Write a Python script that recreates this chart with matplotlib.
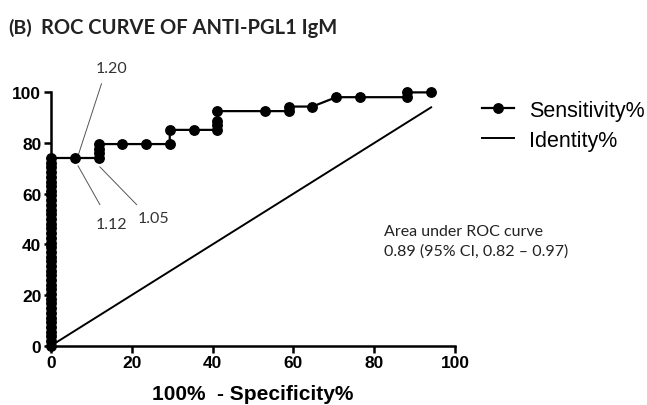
import matplotlib
matplotlib.use("Agg")
import matplotlib.pyplot as plt

# ROC points (100% - specificity, sensitivity %)
fpr = [0]*41 + [5.9, 11.8, 11.8, 11.8, 11.8, 17.6, 23.5, 29.4, 29.4, 35.3,
                41.2, 41.2, 41.2, 41.2, 52.9, 58.8, 58.8, 64.7, 70.6, 76.5,
                88.2, 88.2, 94.1]
sens = [0, 1.9, 3.7, 5.6, 7.4, 9.3, 11.1, 13.0, 14.8, 16.7, 18.5, 20.4, 22.2,
        24.1, 25.9, 27.8, 29.6, 31.5, 33.3, 35.2, 37.0, 38.9, 40.7, 42.6, 44.4,
        46.3, 48.1, 50.0, 51.9, 53.7, 55.6, 57.4, 59.3, 61.1, 63.0, 64.8, 66.7,
        68.5, 70.4, 72.2, 74.1,
        74.1, 74.1, 75.9, 77.8, 79.6, 79.6, 79.6, 79.6, 85.2, 85.2,
        85.2, 87.0, 88.9, 92.6, 92.6, 92.6, 94.4, 94.4, 98.1, 98.1,
        98.1, 100, 100]
ident_x = [0, 94.1]
ident_y = [0, 94.1]

cutoffs = ["1.20", "1.12", "1.05"]
cut_xy = [(6.6, 74.5), (6.7, 71.0), (12.1, 70.6)]
cut_text = [(12.5, 103.4), (12.1, 55.7), (21.2, 55.7)]
cut_label = [(15.1, 109.5), (15.0, 48.0), (25.3, 50.5)]

fig = plt.figure(figsize=(6.47, 4.06), dpi=100)
ax = fig.add_axes([0.0788, 0.146, 0.6244, 0.624])

ax.plot(fpr, sens, '-o', color='black', lw=1.6, ms=6.8, clip_on=False,
        zorder=4, label="Sensitivity%")
ax.plot(ident_x, ident_y, '-', color='black', lw=1.4, label="Identity%")

for lab, p, t, l in zip(cutoffs, cut_xy, cut_text, cut_label):
    ax.plot([p[0], t[0]], [p[1], t[1]], color='#555555', lw=0.7, clip_on=False)
    ax.text(l[0], l[1], lab, fontsize=11.5, family='Lato', color='#333333',
            ha='center', va='center')

ax.text(82.5, 41.4, "Area under ROC curve\n0.89 (95% CI, 0.82 \u2013 0.97)",
        fontsize=11.5, family='Lato', color='#222222', ha='left', va='center',
        linespacing=1.45)

ax.set_xlim(0, 100)
ax.set_ylim(0, 100)
ax.set_xticks([0, 20, 40, 60, 80, 100])
ax.set_yticks([0, 20, 40, 60, 80, 100])
for s in ['top', 'right']:
    ax.spines[s].set_visible(False)
for s in ['left', 'bottom']:
    ax.spines[s].set_linewidth(1.8)
ax.tick_params(width=1.8, length=5, direction='out', pad=2)
for lbl in ax.get_xticklabels() + ax.get_yticklabels():
    lbl.set_fontfamily('Liberation Sans')
    lbl.set_fontweight('bold')
    lbl.set_fontsize(12.5)
ax.set_xlabel("100%  - Specificity%", fontsize=15, family='Liberation Sans',
              fontweight='bold', labelpad=10)

leg = fig.legend(loc='upper left', bbox_to_anchor=(0.715, 0.80), frameon=False,
                 prop={'family': 'Liberation Sans', 'size': 15.5},
                 handlelength=1.5, handletextpad=0.7, labelspacing=0.42)

fig.text(0.012, 0.93, "(B)", fontsize=14, family='Lato', fontweight='bold',
         color='#222222', va='center')
fig.text(0.064, 0.93, "ROC CURVE OF ANTI-PGL1 IgM", fontsize=14.5,
         family='Lato', fontweight='bold', color='#222222', va='center')

fig.savefig("out.png", dpi=100)
